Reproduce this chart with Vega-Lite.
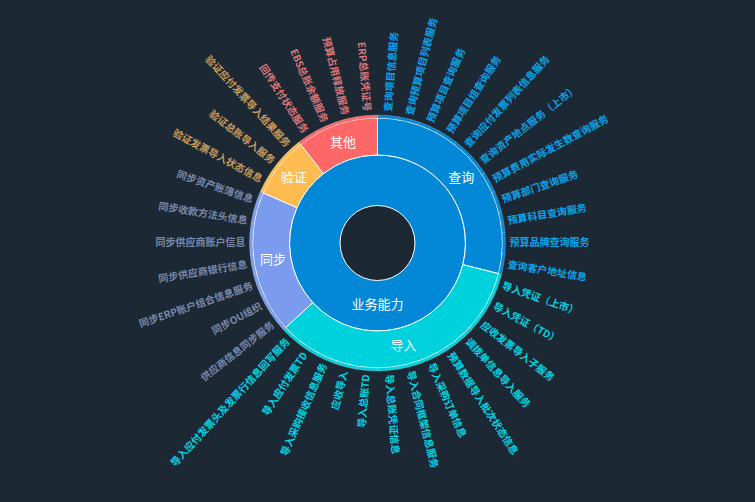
{
  "$schema": "https://vega.github.io/schema/vega-lite/v6.json",
  "width": 755,
  "height": 502,
  "autosize": {"type": "fit", "contains": "padding"},
  "padding": {"left": 0, "right": 0, "top": 0, "bottom": 16},
  "background": "#1c2833",
  "config": {"view": {"stroke": null}, "text": {"font": "Noto Sans CJK SC"}},
  "data": {"values": [
    {"cat": "查询", "name": "查询项目信息服务", "v": 1},
    {"cat": "查询", "name": "查询预算项目列表服务", "v": 1},
    {"cat": "查询", "name": "预算项目查询服务", "v": 1},
    {"cat": "查询", "name": "预算项目组查询服务", "v": 1},
    {"cat": "查询", "name": "查询应付发票列表信息服务", "v": 1},
    {"cat": "查询", "name": "查询资产地点服务（上市）", "v": 1},
    {"cat": "查询", "name": "预算费用实际发生数查询服务", "v": 1},
    {"cat": "查询", "name": "预算部门查询服务", "v": 1},
    {"cat": "查询", "name": "预算科目查询服务", "v": 1},
    {"cat": "查询", "name": "预算品牌查询服务", "v": 1},
    {"cat": "查询", "name": "查询客户地址信息", "v": 1},
    {"cat": "导入", "name": "导入凭证（上市）", "v": 1},
    {"cat": "导入", "name": "导入凭证（TD）", "v": 1},
    {"cat": "导入", "name": "应收发票导入子服务", "v": 1},
    {"cat": "导入", "name": "调拨单信息导入服务", "v": 1},
    {"cat": "导入", "name": "预算数据导入批次状态信息", "v": 1},
    {"cat": "导入", "name": "导入采购订单信息", "v": 1},
    {"cat": "导入", "name": "导入合同框架信息服务", "v": 1},
    {"cat": "导入", "name": "导入总账凭证信息", "v": 1},
    {"cat": "导入", "name": "导入总账TD", "v": 1},
    {"cat": "导入", "name": "应收导入", "v": 1},
    {"cat": "导入", "name": "导入采购接收信息服务", "v": 1},
    {"cat": "导入", "name": "导入应付发票TD", "v": 1},
    {"cat": "导入", "name": "导入应付发票头及发票行信息回写服务", "v": 1},
    {"cat": "同步", "name": "供应商信息同步服务", "v": 1},
    {"cat": "同步", "name": "同步OU组织", "v": 1},
    {"cat": "同步", "name": "同步ERP账户组合信息服务", "v": 1},
    {"cat": "同步", "name": "同步供应商银行信息", "v": 1},
    {"cat": "同步", "name": "同步供应商账户信息", "v": 1},
    {"cat": "同步", "name": "同步收款方法头信息", "v": 1},
    {"cat": "同步", "name": "同步资产账簿信息", "v": 1},
    {"cat": "验证", "name": "验证发票导入状态信息", "v": 1},
    {"cat": "验证", "name": "验证总账导入服务", "v": 1},
    {"cat": "验证", "name": "验证应付发票导入结果服务", "v": 1},
    {"cat": "其他", "name": "回传支付状态服务", "v": 1},
    {"cat": "其他", "name": "EBS总账余额服务", "v": 1},
    {"cat": "其他", "name": "预算占用释放服务", "v": 1},
    {"cat": "其他", "name": "ERP总账凭证号", "v": 1}
  ]},
  "transform": [{"window": [{"op": "row_number", "as": "idx"}]}],
  "layer": [
    {
      "transform": [{"aggregate": [{"op": "sum", "field": "v", "as": "total"}]}],
      "mark": {"type": "arc", "radius": 88, "radius2": 37.5, "stroke": "#ffffff", "strokeWidth": 1, "fill": "#0388d8"},
      "encoding": {"theta": {"field": "total", "type": "quantitative", "stack": true}}
    },
    {
      "transform": [{"aggregate": [{"op": "sum", "field": "v", "as": "n"}, {"op": "min", "field": "idx", "as": "o"}], "groupby": ["cat"]}],
      "mark": {"type": "arc", "radius": 125, "radius2": 88, "stroke": "#ffffff", "strokeWidth": 1},
      "encoding": {
        "theta": {"field": "n", "type": "quantitative", "stack": true},
        "order": {"field": "o", "type": "quantitative"},
        "color": {"field": "cat", "type": "nominal", "legend": null,
          "scale": {"domain": ["查询", "导入", "同步", "验证", "其他"], "range": ["#0388d8", "#00d2dd", "#7b9bef", "#fdbb50", "#fe6767"]}}
      }
    },
    {
      "mark": {"type": "arc", "radius": 128, "radius2": 125, "stroke": "#ffffff", "strokeWidth": 0.5, "strokeOpacity": 0.4},
      "encoding": {
        "theta": {"field": "v", "type": "quantitative", "stack": true},
        "order": {"field": "idx", "type": "quantitative"},
        "color": {"field": "cat", "type": "nominal", "legend": null,
          "scale": {"domain": ["查询", "导入", "同步", "验证", "其他"], "range": ["#0388d8", "#00d2dd", "#7b9bef", "#fdbb50", "#fe6767"]}}
      }
    },
    {
      "transform": [{"aggregate": [{"op": "sum", "field": "v", "as": "n"}, {"op": "min", "field": "idx", "as": "o"}], "groupby": ["cat"]}],
      "mark": {"type": "text", "radius": 106, "fill": "#ffffff", "fontSize": 13, "align": "center", "baseline": "middle"},
      "encoding": {
        "theta": {"field": "n", "type": "quantitative", "stack": true},
        "order": {"field": "o", "type": "quantitative"},
        "text": {"field": "cat", "type": "nominal"}
      }
    },
    {
      "transform": [{"aggregate": [{"op": "sum", "field": "v", "as": "total"}]}],
      "mark": {"type": "text", "radius": 62, "fill": "#ffffff", "fontSize": 13, "align": "center", "baseline": "middle"},
      "encoding": {
        "theta": {"field": "total", "type": "quantitative", "stack": true},
        "text": {"value": "业务能力"}
      }
    },
    {
      "transform": [{"filter": "datum.idx <= 19"}],
      "mark": {"type": "text", "radius": 132, "fontSize": 10, "fontWeight": "bold", "align": "left", "baseline": "middle"},
      "encoding": {
        "theta": {"field": "idx", "type": "quantitative", "scale": {"domain": [0.5, 38.5], "range": [0, 6.283185307], "nice": false, "zero": false}},
        "angle": {"field": "idx", "type": "quantitative", "scale": {"domain": [0, 38], "range": [-94.7368, 265.2632], "nice": false, "zero": false}},
        "fill": {"field": "cat", "type": "nominal", "legend": null,
          "scale": {"domain": ["查询", "导入", "同步", "验证", "其他"], "range": ["#0aa4ec", "#00d6e6", "#7988ad", "#c89b5c", "#d9777b"]}},
        "text": {"field": "name", "type": "nominal"}
      }
    },
    {
      "transform": [{"filter": "datum.idx >= 20"}],
      "mark": {"type": "text", "radius": 132, "fontSize": 10, "fontWeight": "bold", "align": "right", "baseline": "middle"},
      "encoding": {
        "theta": {"field": "idx", "type": "quantitative", "scale": {"domain": [0.5, 38.5], "range": [0, 6.283185307], "nice": false, "zero": false}},
        "angle": {"field": "idx", "type": "quantitative", "scale": {"domain": [0, 38], "range": [-274.7368, 85.2632], "nice": false, "zero": false}},
        "fill": {"field": "cat", "type": "nominal", "legend": null,
          "scale": {"domain": ["查询", "导入", "同步", "验证", "其他"], "range": ["#0aa4ec", "#00d6e6", "#7988ad", "#c89b5c", "#d9777b"]}},
        "text": {"field": "name", "type": "nominal"}
      }
    }
  ],
  "resolve": {"scale": {"theta": "independent", "angle": "independent"}}
}
